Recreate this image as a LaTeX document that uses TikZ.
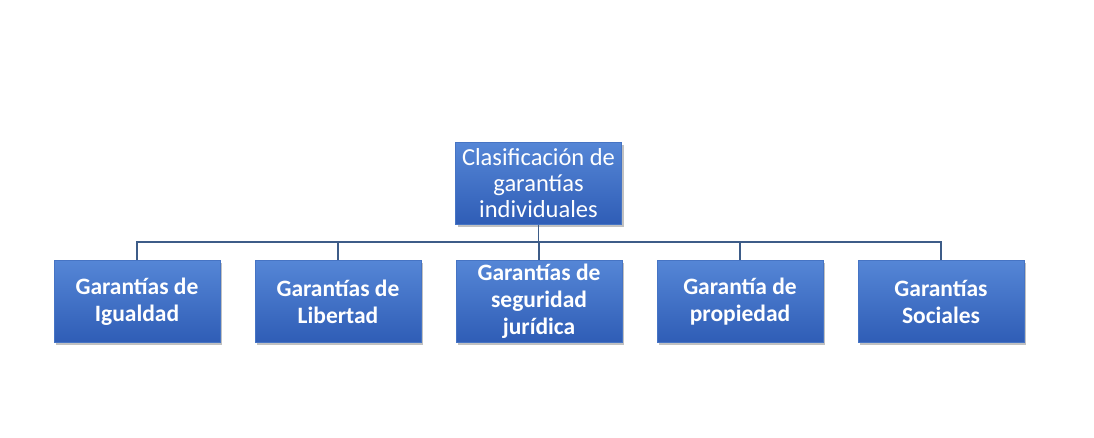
\documentclass[tikz,border=0pt]{standalone}
\usepackage{fontspec}
\setmainfont{Carlito}
\usetikzlibrary{shadows}
\begin{document}
\begin{tikzpicture}[x=1pt,y=1pt,
  box/.style={rectangle, minimum width=166pt, minimum height=82pt, inner sep=1pt,
    top color=blue1, bottom color=blue2, draw=blue3, line width=0.6pt,
    text=white, align=center, font=\fontsize{24.5}{26}\selectfont,
    drop shadow={shadow xshift=2pt, shadow yshift=-3pt, opacity=0.4, fill=black!60}},
  bbox/.style={box, font=\fontsize{23.5}{27}\selectfont\bfseries},
  conn/.style={draw=linec, line width=1.3pt}]
\definecolor{blue1}{HTML}{5586D6}
\definecolor{blue2}{HTML}{2F5DB6}
\definecolor{blue3}{HTML}{4674C4}
\definecolor{linec}{HTML}{3D5C88}
\useasboundingbox (0,0) rectangle (1094,438);
\fill[white] (0,0) rectangle (1094,438);
\node[box] (top) at (538.5,254.5) {Clasificación de\\garantías\\individuales};
\node[bbox] (b1) at (137,136.5) {Garantías de\\Igualdad};
\node[bbox] (b2) at (338,136.5) {Garantías de\\Libertad};
\node[bbox] (b3) at (539,136.5) {Garantías de\\seguridad\\jurídica};
\node[bbox] (b4) at (740,136.5) {Garantía de\\propiedad};
\node[bbox] (b5) at (941,136.5) {Garantías\\Sociales};
\coordinate (bus) at (0,196);
\foreach \n in {b1,b2,b3,b4,b5}{
  \draw[conn] (top.south) |- (bus -| \n.north) -- (\n.north);
}
\end{tikzpicture}
\end{document}
